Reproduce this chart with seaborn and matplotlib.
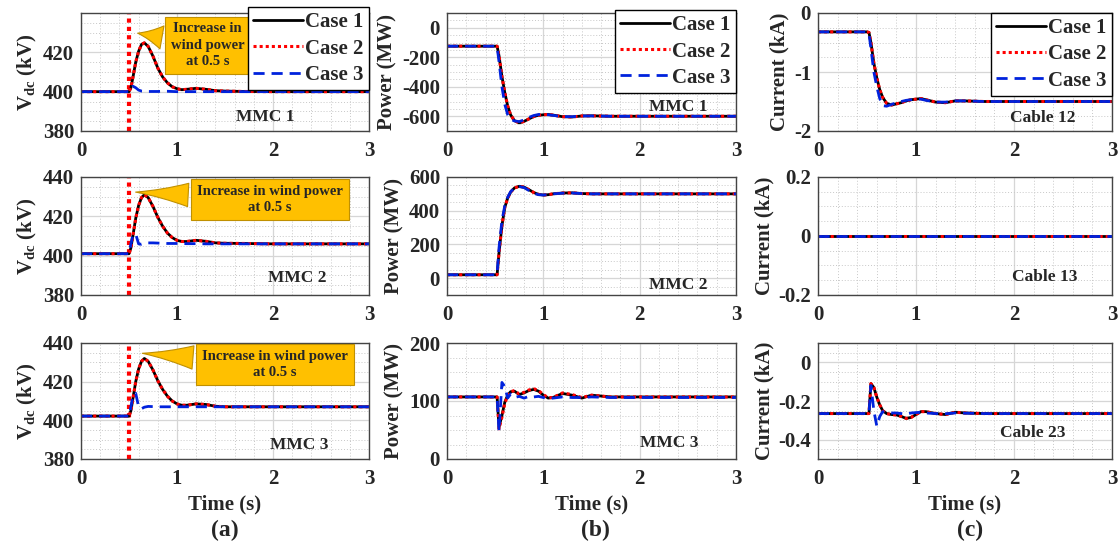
import numpy as np
import pandas as pd
import seaborn as sns
import matplotlib
matplotlib.use("Agg")
import matplotlib.pyplot as plt
from matplotlib.lines import Line2D
from matplotlib.ticker import AutoMinorLocator

# ---------------- data ----------------
time_s = [0, 0.5, 0.52, 0.54, 0.57, 0.6, 0.63, 0.66, 0.7, 0.75, 0.8, 0.85,
          0.9, 0.95, 1.0, 1.05, 1.1, 1.2, 1.3, 1.4, 1.5, 1.7, 2.0, 3.0]
cases = ["Case 1", "Case 2", "Case 3"]

# (a) Vdc (kV)
vdc_mmc1_case1 = [400, 400, 402, 407, 415, 420.5, 424, 424.8, 423, 418, 412, 407.5, 404.5, 402.5, 401.5, 401, 401.2, 401.7, 401.2, 400.5, 400.3, 400.1, 400, 400]
vdc_mmc1_case2 = [400, 400, 402, 407, 415, 420.5, 424, 424.8, 423, 418, 412, 407.5, 404.5, 402.5, 401.5, 401, 401.2, 401.7, 401.2, 400.5, 400.3, 400.1, 400, 400]
vdc_mmc1_case3 = [400, 400, 401.5, 402.8, 402, 400.8, 400.3, 400.2, 400.1, 400.1, 400.1, 400.2, 400.2, 400.1, 400, 400, 400, 400, 400, 400, 400, 400, 400, 400]

vdc_mmc2_case1 = [401, 401, 404, 410, 419, 425.5, 429.5, 431, 429.5, 425, 419.5, 415, 411.5, 409.2, 407.8, 407.2, 407.2, 407.8, 407.3, 406.5, 406.3, 406.2, 406, 406]
vdc_mmc2_case2 = [401, 401, 404, 410, 419, 425.5, 429.5, 431, 429.5, 425, 419.5, 415, 411.5, 409.2, 407.8, 407.2, 407.2, 407.8, 407.3, 406.5, 406.3, 406.2, 406, 406]
vdc_mmc2_case3 = [401, 401, 406, 410.5, 411, 406, 405.8, 406.3, 406.5, 406.5, 406.4, 406.3, 406.2, 406.2, 406.2, 406.2, 406.1, 406.1, 406, 406, 406, 406, 406, 406]

vdc_mmc3_case1 = [402.2, 402.2, 405, 411, 420, 426.5, 430.5, 432, 430.5, 426, 420.5, 416, 412.5, 410, 408.5, 407.8, 407.8, 408.5, 408.2, 407.3, 407, 407, 407, 407]
vdc_mmc3_case2 = [402.2, 402.2, 405, 411, 420, 426.5, 430.5, 432, 430.5, 426, 420.5, 416, 412.5, 410, 408.5, 407.8, 407.8, 408.5, 408.2, 407.3, 407, 407, 407, 407]
vdc_mmc3_case3 = [402.2, 402.2, 407, 412.5, 414, 407, 406, 406.8, 407.2, 407.1, 407, 407, 407, 407, 407, 407, 407, 407, 407, 407, 407, 407, 407, 407]

# (b) Power (MW)
pw_mmc1_case1 = [-125, -125, -125, -190, -330, -440, -530, -590, -630, -645, -635, -618, -602, -593, -590, -588, -592, -603, -605, -598, -597, -600, -600, -600]
pw_mmc1_case2 = [-125, -125, -125, -190, -330, -440, -530, -590, -630, -645, -635, -618, -602, -593, -590, -588, -592, -603, -605, -598, -597, -600, -600, -600]
pw_mmc1_case3 = [-125, -125, -130, -230, -400, -520, -590, -620, -632, -636, -625, -608, -595, -588, -588, -590, -594, -603, -603, -598, -598, -600, -600, -600]

pw_mmc2_case1 = [20, 20, 20, 150, 310, 420, 475, 510, 535, 545, 540, 525, 508, 497, 493, 495, 500, 505, 506, 502, 500, 500, 500, 500]
pw_mmc2_case2 = [20, 20, 20, 150, 310, 420, 475, 510, 535, 545, 540, 525, 508, 497, 493, 495, 500, 505, 506, 502, 500, 500, 500, 500]
pw_mmc2_case3 = [20, 20, 25, 180, 340, 430, 480, 512, 535, 543, 537, 520, 503, 495, 493, 496, 500, 504, 505, 502, 500, 500, 500, 500]

pw_mmc3_case1 = [107, 107, 107, 55, 75, 98, 110, 116, 117, 111, 114, 118, 120, 117, 110, 105, 106, 113, 110, 105, 110, 107, 107, 107]
pw_mmc3_case2 = [107, 107, 107, 52, 72, 96, 109, 116, 118, 112, 115, 119, 121, 118, 111, 106, 106, 114, 111, 106, 110, 107, 107, 107]
pw_mmc3_case3 = [107, 107, 107, 48, 132, 125, 105, 112, 106, 108, 105, 108, 107, 108, 106, 104, 105, 107, 106, 106, 107, 106, 106, 106]

# (c) Current (kA)
cur_c12_case1 = [-0.32, -0.32, -0.33, -0.5, -0.85, -1.1, -1.3, -1.43, -1.53, -1.56, -1.54, -1.52, -1.49, -1.47, -1.46, -1.45, -1.47, -1.51, -1.52, -1.49, -1.49, -1.5, -1.5, -1.5]
cur_c12_case2 = [-0.32, -0.32, -0.33, -0.5, -0.85, -1.1, -1.3, -1.43, -1.53, -1.56, -1.54, -1.52, -1.49, -1.47, -1.46, -1.45, -1.47, -1.51, -1.52, -1.49, -1.49, -1.5, -1.5, -1.5]
cur_c12_case3 = [-0.32, -0.32, -0.35, -0.6, -1.0, -1.25, -1.45, -1.57, -1.58, -1.55, -1.52, -1.5, -1.48, -1.47, -1.46, -1.46, -1.48, -1.51, -1.51, -1.49, -1.49, -1.5, -1.5, -1.5]

cur_c13_case1 = [0, 0, 0, 0, 0, 0, 0, 0, 0, 0, 0, 0, 0, 0, 0, 0, 0, 0, 0, 0, 0, 0, 0, 0]
cur_c13_case2 = [0, 0, 0, 0, 0, 0, 0, 0, 0, 0, 0, 0, 0, 0, 0, 0, 0, 0, 0, 0, 0, 0, 0, 0]
cur_c13_case3 = [0, 0, 0, 0, 0, 0, 0, 0, 0, 0, 0, 0, 0, 0, 0, 0, 0, 0, 0, 0, 0, 0, 0, 0]

cur_c23_case1 = [-0.265, -0.265, -0.265, -0.11, -0.13, -0.18, -0.22, -0.25, -0.265, -0.27, -0.272, -0.28, -0.29, -0.285, -0.27, -0.255, -0.255, -0.265, -0.27, -0.258, -0.262, -0.265, -0.265, -0.265]
cur_c23_case2 = [-0.265, -0.265, -0.265, -0.11, -0.13, -0.18, -0.22, -0.25, -0.265, -0.27, -0.272, -0.28, -0.29, -0.285, -0.27, -0.255, -0.255, -0.265, -0.27, -0.258, -0.262, -0.265, -0.265, -0.265]
cur_c23_case3 = [-0.265, -0.265, -0.265, -0.12, -0.25, -0.33, -0.28, -0.255, -0.258, -0.262, -0.262, -0.265, -0.268, -0.262, -0.26, -0.258, -0.262, -0.265, -0.266, -0.262, -0.263, -0.265, -0.265, -0.265]

panel_tags = ["MMC 1", "MMC 2", "MMC 3", "MMC 1", "MMC 2", "MMC 3", "Cable 12", "Cable 13", "Cable 23"]
callout_text = ["Increase in\nwind power\nat 0.5 s", "Increase in wind power\nat 0.5 s", "Increase in wind power\nat 0.5 s"]

# ---------------- style ----------------
sns.set_theme(style="white")
plt.rcParams["font.family"] = ["Liberation Serif", "DejaVu Serif"]
plt.rcParams["font.weight"] = "bold"
plt.rcParams["axes.labelweight"] = "bold"
plt.rcParams["mathtext.fontset"] = "custom"
plt.rcParams["mathtext.rm"] = "Liberation Serif:bold"
plt.rcParams["mathtext.it"] = "Liberation Serif:bold"
plt.rcParams["mathtext.bf"] = "Liberation Serif:bold"

W, H = 1118, 549
fig = plt.figure(figsize=(W / 100, H / 100), dpi=100)

col_x = [(81, 369), (447, 736), (818, 1112)]
row_y = [(13, 131), (177, 295), (343, 459)]

def make_ax(c, r):
    x0, x1 = col_x[c]
    y0, y1 = row_y[r]
    return fig.add_axes([x0 / W, 1 - y1 / H, (x1 - x0) / W, (y1 - y0) / H])

series = [
    [(vdc_mmc1_case1, vdc_mmc1_case2, vdc_mmc1_case3),
     (vdc_mmc2_case1, vdc_mmc2_case2, vdc_mmc2_case3),
     (vdc_mmc3_case1, vdc_mmc3_case2, vdc_mmc3_case3)],
    [(pw_mmc1_case1, pw_mmc1_case2, pw_mmc1_case3),
     (pw_mmc2_case1, pw_mmc2_case2, pw_mmc2_case3),
     (pw_mmc3_case1, pw_mmc3_case2, pw_mmc3_case3)],
    [(cur_c12_case1, cur_c12_case2, cur_c12_case3),
     (cur_c13_case1, cur_c13_case2, cur_c13_case3),
     (cur_c23_case1, cur_c23_case2, cur_c23_case3)],
]
ylims = [[(380, 440), (380, 440), (380, 440)],
         [(-700, 100), (-100, 600), (0, 200)],
         [(-2, 0), (-0.2, 0.2), (-0.5, 0.1)]]
yticks = [[[380, 400, 420], [380, 400, 420, 440], [380, 400, 420, 440]],
          [[-600, -400, -200, 0], [0, 200, 400, 600], [0, 100, 200]],
          [[-2, -1, 0], [-0.2, 0, 0.2], [-0.4, -0.2, 0]]]
ylabels = [r"V$_{\mathbf{dc}}$ (kV)", "Power (MW)", "Current (kA)"]
tag_pos = [[(0.64, 0.12), (0.75, 0.145), (0.757, 0.12)],
           [(0.80, 0.20), (0.80, 0.085), (0.77, 0.14)],
           [(0.765, 0.11), (0.77, 0.15), (0.73, 0.22)]]
styles = [dict(color="black", linestyle="-", linewidth=2.0),
          dict(color="#ff0000", linestyle=(0, (1, 1)), linewidth=2.2),
          dict(color="#0022dd", linestyle=(0, (4, 2.5)), linewidth=2.0)]
legend_anchor = [(1.0, 1.05), (1.0, 1.025), (1.0, 1.0)]
callouts = [((0.562, 430), (1.32, 423.5)),
            ((0.54, 432.4), (1.97, 428.6)),
            ((0.61, 434.8), (2.02, 429))]

for c in range(3):
    for r in range(3):
        ax = make_ax(c, r)
        vals = series[c][r]
        for k in range(3):
            df = pd.DataFrame({"t": time_s, "v": vals[k]})
            sns.lineplot(data=df, x="t", y="v", ax=ax, **styles[k])
        if c == 0:
            ax.axvline(0.5, color="#ff0000", linestyle=(0, (1, 1)), linewidth=3, zorder=1)
        ax.set_xlim(0, 3)
        ax.set_ylim(*ylims[c][r])
        ax.set_xticks([0, 1, 2, 3])
        ax.set_yticks(yticks[c][r])
        ax.set_yticklabels([f"{v:g}" for v in yticks[c][r]])
        ax.xaxis.set_minor_locator(AutoMinorLocator(5))
        ax.yaxis.set_minor_locator(AutoMinorLocator(4))
        ax.grid(which="major", color="#d6d6d6", linestyle="-", linewidth=0.9)
        ax.grid(which="minor", color="#c8c8c8", linestyle=(0, (1, 2)), linewidth=0.7)
        ax.set_axisbelow(True)
        ax.tick_params(which="both", direction="in", labelsize=15, length=3, color="#444444")
        ax.tick_params(axis="x", pad=7)
        ax.tick_params(axis="y", pad=5)
        ax.tick_params(which="minor", length=0)
        for lab in ax.get_xticklabels() + ax.get_yticklabels():
            lab.set_fontweight("bold")
        for s in ax.spines.values():
            s.set_color("#444444")
            s.set_linewidth(1.0)
        ax.set_ylabel(ylabels[c], fontsize=15, fontweight="bold", labelpad=3)
        if r == 2:
            ax.set_xlabel("Time (s)", fontsize=15, fontweight="bold", labelpad=4)
        else:
            ax.set_xlabel("")
        tx, ty = tag_pos[c][r]
        ax.text(tx, ty, panel_tags[c * 3 + r], transform=ax.transAxes,
                ha="center", va="center", fontsize=12.5, fontweight="bold", zorder=5)
        if c == 0:
            tip, txt = callouts[r]
            ax.annotate(callout_text[r], xy=tip, xytext=txt, ha="center", va="center",
                        fontsize=10.5, fontweight="bold", zorder=6, linespacing=1.35,
                        bbox=dict(boxstyle="square,pad=0.4", fc="#ffc000", ec="#c09000", lw=0.8),
                        arrowprops=dict(arrowstyle="wedge,tail_width=1.6,shrink_factor=0.4",
                                        fc="#ffc000", ec="#c09000", lw=0.8))
        if r == 0:
            handles = [Line2D([], [], **styles[k]) for k in range(3)]
            leg = ax.legend(handles, cases, loc="upper right", bbox_to_anchor=legend_anchor[c],
                            prop=dict(family="Liberation Serif", weight="bold", size=15),
                            frameon=True, fancybox=False, framealpha=1, edgecolor="black",
                            handlelength=2.4, handletextpad=0.1, labelspacing=0.3,
                            borderpad=0.25, borderaxespad=0)
            leg.get_frame().set_linewidth(1.0)
            leg.set_zorder(10)

for x, lab in [(225, "(a)"), (595, "(b)"), (970, "(c)")]:
    fig.text(x / W, 1 - 530 / H, lab, ha="center", va="center", fontsize=17, fontweight="bold")

fig.savefig("out.png", dpi=100)
